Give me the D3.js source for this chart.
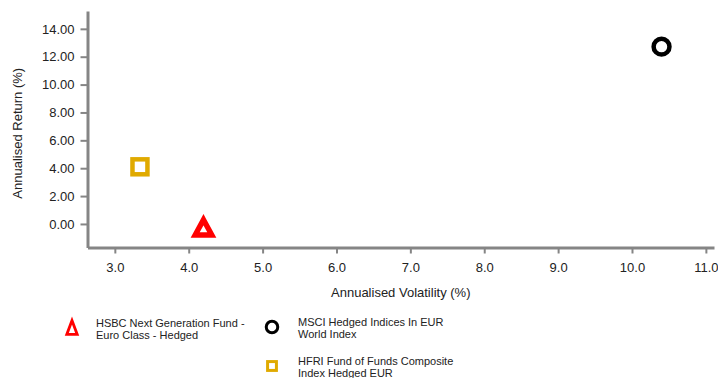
<!DOCTYPE html>
<html>
<head>
<meta charset="utf-8">
<script src="https://cdn.jsdelivr.net/npm/d3@7"></script>
<style>
  html, body { margin: 0; padding: 0; background: #fff; }
  svg { display: block; font-family: "Liberation Sans", Arial, sans-serif; }
</style>
</head>
<body>
<svg id="chart" width="718" height="378"></svg>
<script>
// Risk / return of the fund and its comparison indices
const seriesNames = [
  "HSBC Next Generation Fund - Euro Class - Hedged",
  "MSCI Hedged Indices In EUR World Index",
  "HFRI Fund of Funds Composite Index Hedged EUR"
];
const legendLines = [
  ["HSBC Next Generation Fund -", "Euro Class - Hedged"],
  ["MSCI Hedged Indices In EUR", "World Index"],
  ["HFRI Fund of Funds Composite", "Index Hedged EUR"]
];
const volatility = [4.20, 10.40, 3.34];   // annualised volatility (%)
const annualReturn = [-0.36, 12.72, 4.10]; // annualised return (%)
const seriesColors = ["#ff0000", "#000000", "#e0aa00"];
const seriesShapes = ["triangle", "circle", "square"];

const xTicks = [3, 4, 5, 6, 7, 8, 9, 10, 11];
const yTicks = [0, 2, 4, 6, 8, 10, 12, 14];

const svg = d3.select("#chart");
const plotLeft = 87.5, plotRight = 714, plotTop = 11, plotBottom = 247.5;

const x = d3.scaleLinear().domain([2.63, 11.11]).range([plotLeft, plotRight]);
const y = d3.scaleLinear().domain([-1.69, 15.28]).range([plotBottom, plotTop]);

const axisColor = "#858585";
const textColor = "#222";

// Axes
const xAxis = svg.append("g")
  .attr("transform", `translate(0,${plotBottom})`)
  .call(d3.axisBottom(x).tickValues(xTicks).tickFormat(d3.format(".1f")).tickSize(6).tickSizeOuter(0).tickPadding(9));
const yAxis = svg.append("g")
  .attr("transform", `translate(${plotLeft},0)`)
  .call(d3.axisLeft(y).tickValues(yTicks).tickFormat(d3.format(".2f")).tickSize(7).tickSizeOuter(0).tickPadding(6));

[xAxis, yAxis].forEach(g => {
  g.select(".domain").attr("stroke", axisColor).attr("stroke-width", 3);
  g.selectAll(".tick line").attr("stroke", axisColor).attr("stroke-width", 2);
  g.selectAll(".tick text").attr("fill", textColor).attr("font-size", 13)
    .attr("font-family", "Liberation Sans, Arial, sans-serif");
});

// Axis titles
svg.append("text")
  .attr("x", (plotLeft + plotRight) / 2).attr("y", 297)
  .attr("text-anchor", "middle").attr("font-size", 13).attr("fill", textColor)
  .text("Annualised Volatility (%)");
svg.append("text")
  .attr("transform", `translate(22,${(plotTop + plotBottom) / 2 + 4}) rotate(-90)`)
  .attr("text-anchor", "middle").attr("font-size", 13).attr("fill", textColor)
  .text("Annualised Return (%)");

// Marker drawing
function drawMarker(g, shape, color, cx, cy, s, sw, wide) {
  if (shape === "circle") {
    g.append("circle").attr("cx", cx).attr("cy", cy).attr("r", s * 0.36)
      .attr("fill", "#fff").attr("stroke", color).attr("stroke-width", sw);
  } else if (shape === "square") {
    const h = s * 0.34;
    g.append("rect").attr("x", cx - h).attr("y", cy - h).attr("width", 2 * h).attr("height", 2 * h)
      .attr("fill", "#fff").attr("stroke", color).attr("stroke-width", sw);
  } else {
    const r = s * 0.42;
    const pts = [[cx, cy - r], [cx + r * wide, cy + r * 0.65], [cx - r * wide, cy + r * 0.65]];
    g.append("path")
      .attr("d", d3.line()(pts) + "Z")
      .attr("fill", "#fff").attr("stroke", color).attr("stroke-width", sw)
      .attr("stroke-linejoin", "miter");
  }
}

const markers = svg.append("g");
seriesNames.forEach((name, i) => {
  const sw = seriesShapes[i] === "triangle" ? 5.4 : 4.5;
  drawMarker(markers, seriesShapes[i], seriesColors[i], x(volatility[i]), y(annualReturn[i]), 22, sw, 0.9);
});

// Legend
const legendPos = [[72, 329], [272, 327], [272, 366]];
const legendSize = [20, 16, 13];
const legendStroke = [2.8, 3, 3];
legendPos.forEach(([lx, ly], i) => {
  drawMarker(svg, seriesShapes[i], seriesColors[i], lx, ly, legendSize[i], legendStroke[i], 0.62);
  const t = svg.append("text").attr("font-size", 11).attr("fill", textColor);
  legendLines[i].forEach((line, j) => {
    t.append("tspan").attr("x", (i === 0 ? 96 : lx + 26)).attr("y", (i === 0 ? 327 : ly - 1) + j * 12).text(line);
  });
});
</script>
</body>
</html>
